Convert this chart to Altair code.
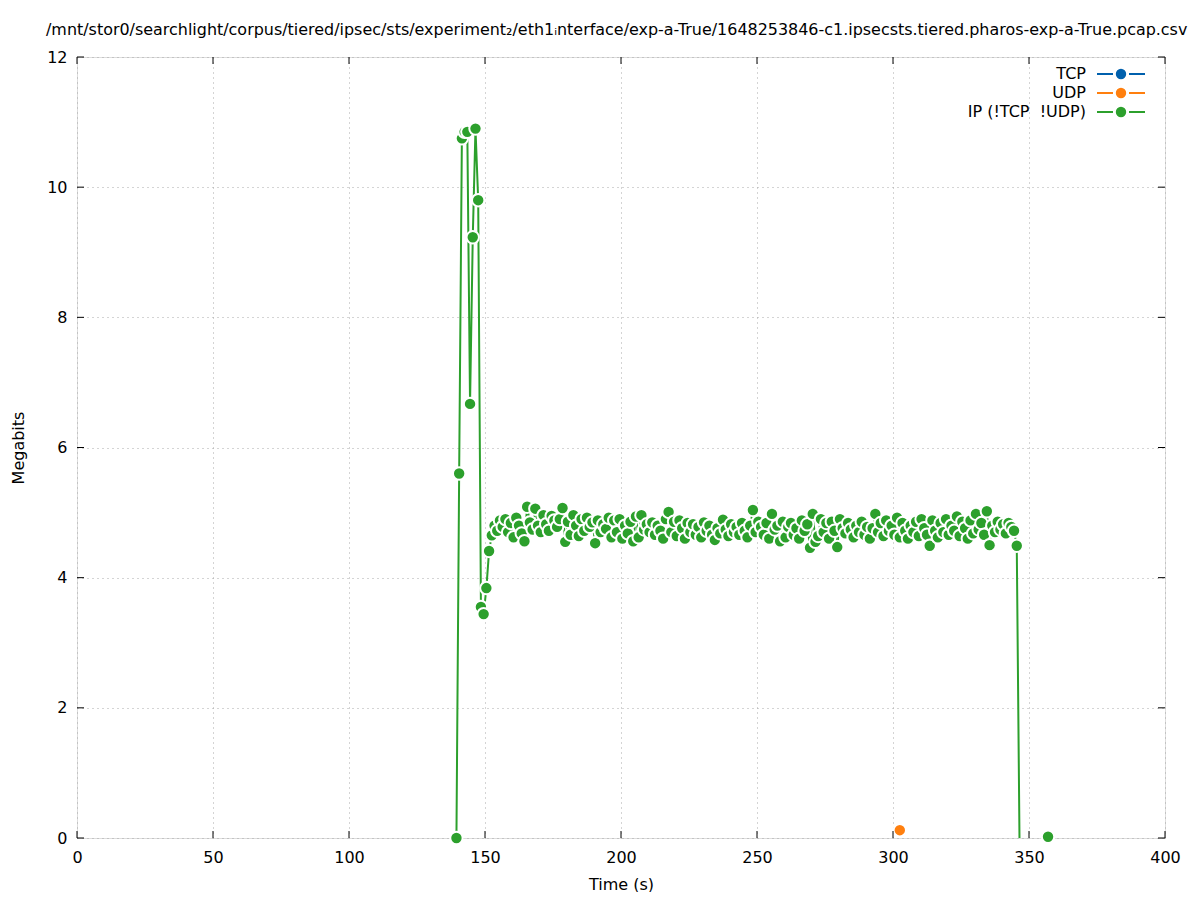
import altair as alt
import pandas as pd

FONT = "DejaVu Sans"

title_text = ("/mnt/stor0/searchlight/corpus/tiered/ipsec/sts/experiment\u2082/eth1\u1d62nterface/"
              "exp-a-True/1648253846-c1.ipsecsts.tiered.pharos-exp-a-True.pcap.csv")

series_names = ["TCP", "UDP", "IP (!TCP\u00a0\u00a0!UDP)"]
series_colors = ["#0060ad", "#ff7f0e", "#2ca02c"]

x_ticks = [0, 50, 100, 150, 200, 250, 300, 350, 400]
y_ticks = [0, 2, 4, 6, 8, 10, 12]

# IP (!TCP !UDP) series, one sample per second starting at 139.5 s
ip_head = [0.0, 5.6, 10.75, 10.85, 10.85, 6.67, 9.23, 10.9, 9.8, 3.55, 3.44, 3.84, 4.41]
ip_band = [
    4.65, 4.80, 4.72, 4.88, 4.78, 4.90, 4.70, 4.84, 4.62, 4.92,
    4.80, 4.68, 4.56, 5.09, 4.85, 4.74, 5.06, 4.80, 4.70, 4.96,
    4.82, 4.72, 4.95, 4.88, 4.78, 4.90, 5.07, 4.55, 4.86, 4.66,
    4.96, 4.80, 4.64, 4.90, 4.72, 4.92, 4.78, 4.85, 4.53, 4.88,
    4.70, 4.82, 4.75, 4.92, 4.62, 4.88, 4.70, 4.90, 4.60, 4.80,
    4.68, 4.86, 4.56, 4.94, 4.62, 4.96, 4.74, 4.82, 4.70, 4.85,
    4.66, 4.80, 4.72, 4.60, 4.90, 5.01, 4.70, 4.86, 4.64, 4.88,
    4.76, 4.60, 4.84, 4.70, 4.82, 4.66, 4.78, 4.62, 4.85, 4.72,
    4.80, 4.66, 4.58, 4.76, 4.68, 4.89, 4.74, 4.64, 4.82, 4.70,
    4.78, 4.66, 4.84, 4.72, 4.62, 4.80, 5.04, 4.70, 4.86, 4.78,
    4.66, 4.84, 4.60, 4.98, 4.74, 4.80, 4.56, 4.86, 4.62, 4.78,
    4.84, 4.66, 4.76, 4.60, 4.88, 4.72, 4.82, 4.46, 4.98, 4.55,
    4.64, 4.90, 4.70, 4.84, 4.60, 4.86, 4.72, 4.47, 4.90, 4.76,
    4.68, 4.84, 4.74, 4.62, 4.80, 4.70, 4.86, 4.66, 4.78, 4.60,
    4.76, 4.98, 4.70, 4.84, 4.64, 4.88, 4.72, 4.80, 4.66, 4.92,
    4.62, 4.84, 4.72, 4.60, 4.80, 4.70, 4.86, 4.64, 4.90, 4.76,
    4.66, 4.49, 4.88, 4.72, 4.62, 4.84, 4.70, 4.90, 4.66, 4.80,
    4.72, 4.94, 4.64, 4.86, 4.76, 4.60, 4.88, 4.68, 4.98, 4.74,
    4.84, 4.66, 5.02, 4.50, 4.80, 4.70, 4.86, 4.74, 4.82, 4.68,
    4.84, 4.78, 4.72, 4.49,
]
ip_tail = [0.0]
ip_values = ip_head + ip_band + ip_tail
ip_times = [139.5 + i for i in range(len(ip_values))]
ip_marker = [1] * (len(ip_values) - 1) + [0]
ip_segment = [0] * len(ip_values)
# isolated last sample
ip_times += [357.0]
ip_values += [0.02]
ip_marker += [1]
ip_segment += [1]

udp_times = [302.5]
udp_values = [0.12]

legend_rows = [0, 1, 2]

ip_df = pd.DataFrame({"t": ip_times, "v": ip_values, "marker": ip_marker,
                      "seg": ip_segment, "series": series_names[2]})
udp_df = pd.DataFrame({"t": udp_times, "v": udp_values, "series": series_names[1]})
leg_df = pd.DataFrame({"series": series_names, "row": legend_rows})
xt_df = pd.DataFrame({"tick": x_ticks})
yt_df = pd.DataFrame({"tick": y_ticks})
title_df = pd.DataFrame({"text": [title_text]})

W, H = 1088, 781
FS = 16

xscale = alt.Scale(domain=[0, 400], nice=False, zero=False)
yscale = alt.Scale(domain=[0, 12], nice=False)
cscale = alt.Scale(domain=series_names, range=series_colors)

grid_kw = dict(grid=True, gridColor="#a8a8a8", gridDash=[1, 4], gridWidth=1)

x_axis = alt.Axis(values=x_ticks, ticks=False, domain=False, format="d", labelFlush=False,
                  labelPadding=11, labelFontSize=FS, title="Time (s)", titleFontSize=FS,
                  titleFontWeight="normal", titlePadding=11, labelFont=FONT, titleFont=FONT,
                  labelColor="black", titleColor="black", **grid_kw)
y_axis = alt.Axis(values=y_ticks, ticks=False, domain=False, format="d", labelFlush=False,
                  labelPadding=10, labelFontSize=FS, title="Megabits", titleFontSize=FS,
                  titleFontWeight="normal", titlePadding=20, labelFont=FONT, titleFont=FONT,
                  labelColor="black", titleColor="black", **grid_kw)

X = alt.X("t:Q", scale=xscale, axis=x_axis)
Y = alt.Y("v:Q", scale=yscale, axis=y_axis)

ip_line = alt.Chart(ip_df).mark_line(strokeWidth=2, clip=True).encode(
    x=X, y=Y, detail="seg:N",
    color=alt.Color("series:N", scale=cscale, legend=None),
    order="t:Q")

pt_kw = dict(filled=True, shape="circle", size=154, opacity=1, stroke="white", strokeWidth=2)

udp_pts = alt.Chart(udp_df).mark_point(**pt_kw).encode(
    x="t:Q", y="v:Q", fill=alt.Fill("series:N", scale=cscale, legend=None))

ip_pts = alt.Chart(ip_df).transform_filter("datum.marker == 1").mark_point(**pt_kw).encode(
    x="t:Q", y="v:Q", fill=alt.Fill("series:N", scale=cscale, legend=None))

tick_len = 7
xt_bot = alt.Chart(xt_df).mark_rule(color="black", strokeWidth=1).encode(
    x=alt.X("tick:Q", scale=xscale), y=alt.value(H), y2=alt.value(H - tick_len))
xt_top = alt.Chart(xt_df).mark_rule(color="black", strokeWidth=1).encode(
    x=alt.X("tick:Q", scale=xscale), y=alt.value(0), y2=alt.value(tick_len))
yt_left = alt.Chart(yt_df).mark_rule(color="black", strokeWidth=1).encode(
    y=alt.Y("tick:Q", scale=yscale), x=alt.value(0), x2=alt.value(tick_len))
yt_right = alt.Chart(yt_df).mark_rule(color="black", strokeWidth=1).encode(
    y=alt.Y("tick:Q", scale=yscale), x=alt.value(W), x2=alt.value(W - tick_len))

leg_base = alt.Chart(leg_df).transform_calculate(ly="17 + 19 * datum.row")
leg_text = leg_base.mark_text(align="right", baseline="middle", fontSize=FS, font=FONT,
                              color="black").encode(
    text="series:N", x=alt.value(1009), y=alt.Y("ly:Q", scale=None, axis=None))
leg_line1 = leg_base.mark_rule(strokeWidth=2).encode(
    x=alt.value(1020), x2=alt.value(1036), y=alt.Y("ly:Q", scale=None, axis=None),
    color=alt.Color("series:N", scale=cscale, legend=None))
leg_line2 = leg_base.mark_rule(strokeWidth=2).encode(
    x=alt.value(1052), x2=alt.value(1068), y=alt.Y("ly:Q", scale=None, axis=None),
    color=alt.Color("series:N", scale=cscale, legend=None))
leg_pt = leg_base.mark_point(**pt_kw).encode(
    x=alt.value(1044), y=alt.Y("ly:Q", scale=None, axis=None),
    fill=alt.Fill("series:N", scale=cscale, legend=None))

title_mark = alt.Chart(title_df).mark_text(align="left", baseline="middle", fontSize=15.95,
                                           font=FONT, color="black").encode(
    text="text:N", x=alt.value(-31), y=alt.value(-27))

chart = alt.layer(
    ip_line, udp_pts, ip_pts, xt_bot, xt_top, yt_left, yt_right,
    leg_line1, leg_line2, leg_pt, leg_text, title_mark
).properties(
    width=W, height=H,
    autosize=alt.AutoSizeParams(type="none"),
    padding={"left": 69, "top": 49, "right": 24, "bottom": 54},
).configure_view(stroke="black", strokeWidth=1).configure(background="white")

chart.save("out.html", embed_options={"renderer": "svg", "actions": False})
